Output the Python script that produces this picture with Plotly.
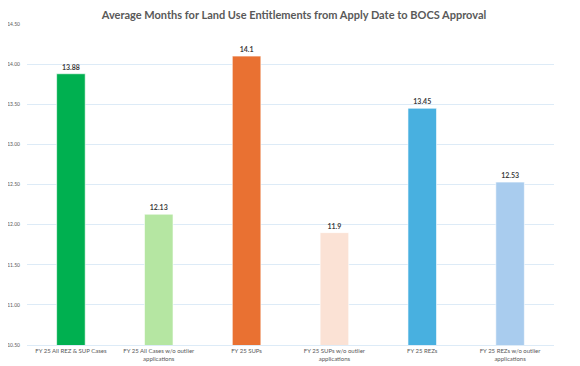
import plotly.graph_objects as go

categories = [
    "FY 25 All REZ & SUP Cases",
    "FY 25 All Cases w/o outlier<br>applications",
    "FY 25 SUPs",
    "FY 25 SUPs w/o outlier<br>applications",
    "FY 25 REZs",
    "FY 25 REZs w/o outlier<br>applications",
]
values = [13.88, 12.13, 14.1, 11.9, 13.45, 12.53]
value_labels = ["13.88", "12.13", "14.1", "11.9", "13.45", "12.53"]
colors = ["#00B050", "#B5E6A2", "#E97132", "#FBE2D5", "#48B0E0", "#A9CCEE"]
tick_vals = [10.5, 11.0, 11.5, 12.0, 12.5, 13.0, 13.5, 14.0, 14.5]
tick_text = ["10.50", "11.00", "11.50", "12.00", "12.50", "13.00", "13.50", "14.00", "14.50"]

W, H = 572, 358

fig = go.Figure(
    go.Bar(
        x=categories,
        y=values,
        marker=dict(color=colors, line=dict(color="rgba(255,255,255,0.6)", width=1)),
        text=value_labels,
        textposition="outside",
        textfont=dict(family="Lato", size=7, color="#404040", weight="bold"),
        cliponaxis=False,
    )
)

fig.update_layout(
    width=W,
    height=H,
    paper_bgcolor="white",
    plot_bgcolor="white",
    margin=dict(l=19, r=26, t=16, b=21, autoexpand=False),
    bargap=0.675,
    showlegend=False,
    title=dict(
        text="<b>Average Months for Land Use Entitlements from Apply Date to BOCS Approval</b>",
        x=0.5,
        xanchor="center",
        y=1 - 7 / H,
        yanchor="middle",
        font=dict(family="Lato", size=11, color="#595959"),
    ),
    xaxis=dict(
        tickfont=dict(family="Lato", size=6, color="#595959"),
        showline=True,
        linecolor="#DDEBF7",
        ticks="",
        automargin=False,
    ),
    yaxis=dict(
        range=[10.5, 14.5],
        tickvals=tick_vals,
        ticktext=tick_text,
        tickfont=dict(family="Lato", size=5, color="#595959"),
        showgrid=True,
        gridcolor="#DDEBF7",
        gridwidth=1,
        zeroline=False,
        ticks="",
        ticklabelstandoff=6,
        automargin=False,
    ),
)

fig.write_html("out.html")
